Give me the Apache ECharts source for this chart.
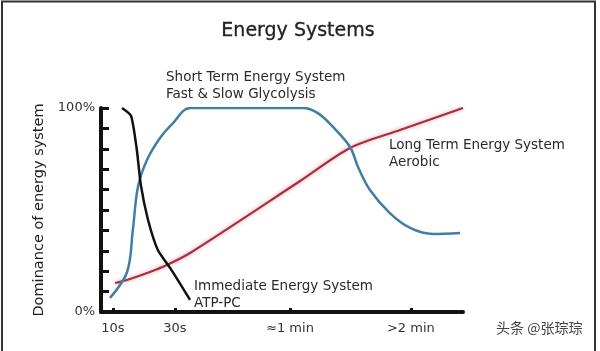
<!DOCTYPE html>
<html><head><meta charset="utf-8">
<script src="https://cdn.jsdelivr.net/npm/echarts@6/dist/echarts.min.js"></script>
<style>html,body{margin:0;padding:0;background:#fff}#c{width:600px;height:351px}</style>
</head><body><div id="c"></div>
<script>
// x is an abstract time position (0..100), y is dominance %
var xTickValues = [3.3, 20.4, 52.2, 85.6];
var xTickLabels = ['10s', '30s', '≈1 min', '>2 min'];
var yTickLabels = {0: '0%', 100: '100%'};

var immediateX = [5.8, 8.3, 9.9, 11.0, 13.0, 15.7, 19.1, 24.6];
var immediateY = [100, 96.1, 79.4, 62.3, 45.1, 30.4, 21.6, 5.9];

var shortX = [2.5, 7.2, 8.8, 10.2, 12.7, 16.3, 19.9, 24.6, 55.8, 59.9, 64.1, 68.8, 71.0, 74.3, 79.8, 85.4, 91.7, 99.2];
var shortY = [6.9, 19.6, 40.2, 61.3, 74.5, 85.3, 92.6, 100, 100, 97.5, 90.7, 80.9, 71.1, 59.8, 48.5, 41.2, 38.2, 38.7];

var longX = [3.9, 7.2, 13.5, 18.2, 24.6, 55.0, 68.8, 82.6, 100];
var longY = [14.2, 15.7, 19.6, 23.0, 28.9, 64.2, 80.4, 89.2, 100];

function zip(a, b) { return a.map(function (v, i) { return [v, b[i]]; }); }

var chart = echarts.init(document.getElementById('c'), null, {renderer: 'canvas'});
var font = 'DejaVu Sans';
chart.setOption({
  animation: false,
  backgroundColor: '#fff',
  grid: {left: 101, top: 108, width: 362, height: 204, containLabel: false},
  title: {text: 'Energy Systems', left: 293, top: 17, textAlign: 'center',
    textStyle: {fontFamily: font, fontSize: 19, fontWeight: 'normal', color: '#222', textBorderColor: '#222', textBorderWidth: 0.3}},
  xAxis: {
    type: 'value', min: 0, max: 100,
    splitLine: {show: false},
    axisLine: {show: true, onZero: false, lineStyle: {color: '#111', width: 4}},
    axisTick: {show: true, inside: true, length: 4, lineStyle: {color: '#111', width: 3}, customValues: xTickValues},
    axisLabel: {show: true, customValues: xTickValues, margin: 10,
      fontFamily: font, fontSize: 13, color: '#333',
      formatter: function (v) { var i = xTickValues.indexOf(v); return i >= 0 ? xTickLabels[i] : ''; }}
  },
  yAxis: {
    type: 'value', min: 0, max: 100, interval: 10,
    name: 'Dominance of energy system', nameLocation: 'middle', nameGap: 53, nameRotate: 90,
    nameTextStyle: {fontFamily: font, fontSize: 14.5, color: '#222'},
    splitLine: {show: false},
    axisLine: {show: true, lineStyle: {color: '#111', width: 4}},
    axisTick: {show: true, inside: true, length: 8, lineStyle: {color: '#111', width: 3}},
    axisLabel: {margin: 6, fontFamily: font, fontSize: 13, color: '#333',
      formatter: function (v) { return yTickLabels[v] || ''; }}
  },
  series: [
    {type: 'line', name: 'Immediate', data: zip(immediateX, immediateY), showSymbol: false, smooth: 0.2,
      lineStyle: {color: '#111', width: 2.5}, z: 4},
    {type: 'line', name: 'Short', data: zip(shortX, shortY), showSymbol: false, smooth: 0.35,
      lineStyle: {color: '#3f7fa6', width: 2.5}, z: 3},
    {type: 'line', name: 'Long', data: zip(longX, longY), showSymbol: false, smooth: 0.3,
      lineStyle: {color: '#a5303f', width: 2.2, shadowColor: 'rgba(230,90,110,0.6)', shadowBlur: 4}, z: 2}
  ],
  graphic: [
    {type: 'rect', shape: {x: 2, y: 1.5, width: 593, height: 400}, style: {fill: 'none', stroke: '#333', lineWidth: 2}, silent: true},
    {type: 'text', left: 166, top: 69, style: {text: 'Short Term Energy System\nFast & Slow Glycolysis', font: '13.5px "DejaVu Sans"', fill: '#2a2a2a', lineHeight: 17}},
    {type: 'text', left: 389, top: 137, style: {text: 'Long Term Energy System\nAerobic', font: '13.5px "DejaVu Sans"', fill: '#2a2a2a', lineHeight: 17}},
    {type: 'text', left: 194, top: 278, style: {text: 'Immediate Energy System\nATP-PC', font: '13.5px "DejaVu Sans"', fill: '#2a2a2a', lineHeight: 17}},
    {type: 'text', left: 496, top: 321, style: {text: '头条 @张琮琮', font: '14px "Noto Sans CJK SC"', fill: '#444'}}
  ]
});
</script></body></html>
